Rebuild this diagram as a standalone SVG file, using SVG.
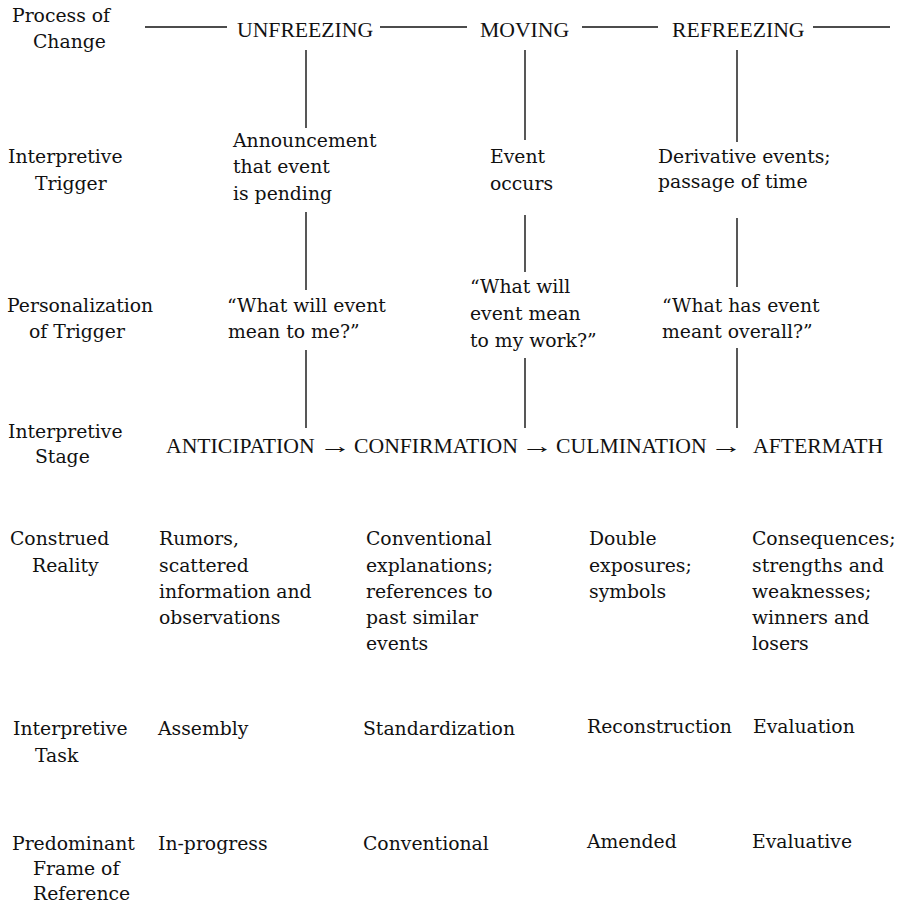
<svg xmlns="http://www.w3.org/2000/svg" width="897" height="907" viewBox="0 0 897 907">
<style>
  text { font-family: "DejaVu Serif", "Liberation Serif", serif; font-size: 18.8px; fill: #111; }
  .cap { font-family: "Liberation Serif", "Times New Roman", serif; font-size: 21.7px; }
  .ln { stroke: #111; stroke-width: 1.4; fill: none; }
</style>
<rect width="897" height="907" fill="#fff"/>

<g id="row-labels">
  <text x="12" y="22">Process of</text><text x="33" y="48">Change</text>
  <text x="8" y="163">Interpretive</text><text x="35" y="190">Trigger</text>
  <text x="7" y="312">Personalization</text><text x="29" y="338">of Trigger</text>
  <text x="8" y="438">Interpretive</text><text x="35" y="463">Stage</text>
  <text x="10" y="545">Construed</text><text x="32" y="572">Reality</text>
  <text x="13" y="735">Interpretive</text><text x="35" y="762">Task</text>
  <text x="12" y="850">Predominant</text><text x="33" y="875">Frame of</text><text x="33" y="900">Reference</text>
</g>

<g id="connectors">
  <line class="ln" x1="145" y1="27" x2="227" y2="27"/>
  <line class="ln" x1="380" y1="27" x2="467" y2="27"/>
  <line class="ln" x1="582" y1="27" x2="658" y2="27"/>
  <line class="ln" x1="813" y1="27" x2="890" y2="27"/>
  <line class="ln" x1="306" y1="50" x2="306" y2="128"/>
  <line class="ln" x1="306" y1="212" x2="306" y2="290"/>
  <line class="ln" x1="306" y1="350" x2="306" y2="428"/>
  <line class="ln" x1="525" y1="50" x2="525" y2="140"/>
  <line class="ln" x1="525" y1="215" x2="525" y2="272"/>
  <line class="ln" x1="525" y1="358" x2="525" y2="428"/>
  <line class="ln" x1="737" y1="50" x2="737" y2="142"/>
  <line class="ln" x1="737" y1="218" x2="737" y2="287"/>
  <line class="ln" x1="737" y1="348" x2="737" y2="428"/>
</g>

<g id="unfreezing"><text class="cap" x="237" y="37">UNFREEZING</text></g>
<g id="moving"><text class="cap" x="480" y="37">MOVING</text></g>
<g id="refreezing"><text class="cap" x="672" y="37">REFREEZING</text></g>

<g id="trigger-1"><text x="233" y="147">Announcement</text><text x="233" y="173">that event</text><text x="233" y="200">is pending</text></g>
<g id="trigger-2"><text x="490" y="163">Event</text><text x="490" y="190">occurs</text></g>
<g id="trigger-3"><text x="658" y="163">Derivative events;</text><text x="658" y="188">passage of time</text></g>

<g id="personal-1"><text x="227" y="312">“What will event</text><text x="228" y="338">mean to me?”</text></g>
<g id="personal-2"><text x="470" y="293">“What will</text><text x="470" y="320">event mean</text><text x="470" y="347">to my work?”</text></g>
<g id="personal-3"><text x="662" y="312">“What has event</text><text x="662" y="338">meant overall?”</text></g>

<g id="stage">
  <text class="cap" x="166" y="453">ANTICIPATION</text>
  <text class="cap" transform="translate(319,453) scale(1.5,1)">→</text>
  <text class="cap" x="354" y="453">CONFIRMATION</text>
  <text class="cap" transform="translate(521,453) scale(1.5,1)">→</text>
  <text class="cap" x="556" y="453">CULMINATION</text>
  <text class="cap" transform="translate(710,453) scale(1.5,1)">→</text>
  <text class="cap" x="753" y="453">AFTERMATH</text>
</g>

<g id="reality-1"><text x="159" y="545">Rumors,</text><text x="159" y="572">scattered</text><text x="159" y="598">information and</text><text x="159" y="624">observations</text></g>
<g id="reality-2"><text x="366" y="545">Conventional</text><text x="366" y="572">explanations;</text><text x="366" y="598">references to</text><text x="366" y="624">past similar</text><text x="366" y="650">events</text></g>
<g id="reality-3"><text x="589" y="545">Double</text><text x="589" y="572">exposures;</text><text x="589" y="598">symbols</text></g>
<g id="reality-4"><text x="752" y="545">Consequences;</text><text x="752" y="572">strengths and</text><text x="752" y="598">weaknesses;</text><text x="752" y="624">winners and</text><text x="752" y="650">losers</text></g>

<g id="task-1"><text x="158" y="735">Assembly</text></g>
<g id="task-2"><text x="363" y="735">Standardization</text></g>
<g id="task-3"><text x="587" y="733">Reconstruction</text></g>
<g id="task-4"><text x="753" y="733">Evaluation</text></g>

<g id="frame-1"><text x="158" y="850">In-progress</text></g>
<g id="frame-2"><text x="363" y="850">Conventional</text></g>
<g id="frame-3"><text x="587" y="848">Amended</text></g>
<g id="frame-4"><text x="752" y="848">Evaluative</text></g>
</svg>
